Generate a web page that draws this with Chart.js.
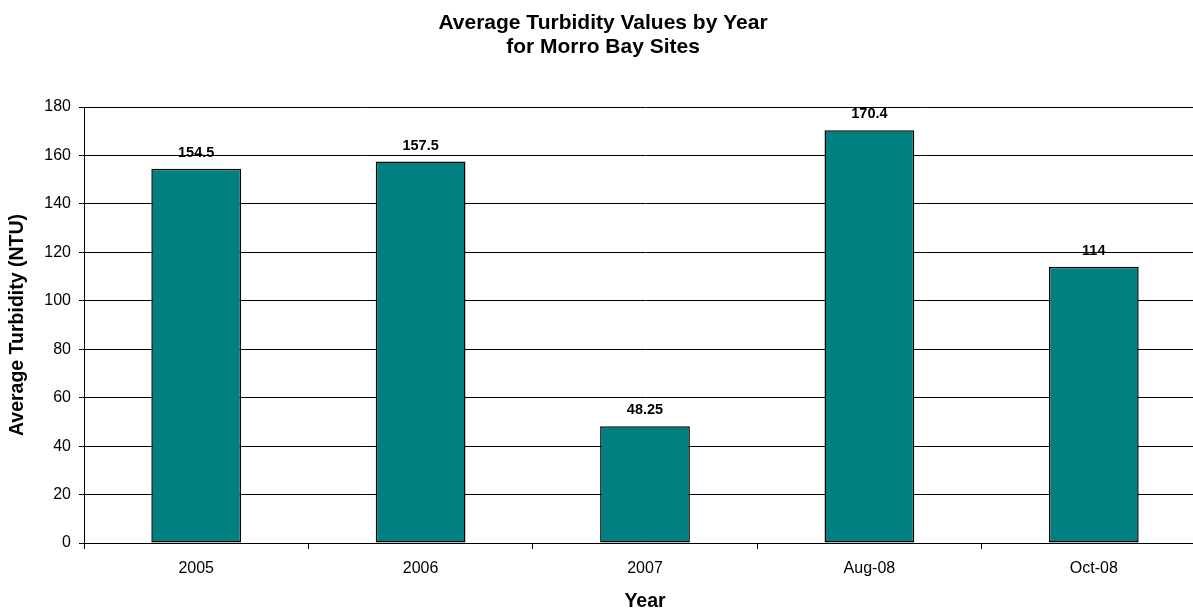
<!DOCTYPE html>
<html>
<head>
<meta charset="utf-8">
<title>Average Turbidity Values by Year</title>
<script src="https://cdn.jsdelivr.net/npm/chart.js@4/dist/chart.umd.min.js"></script>
<style>
  html, body { margin: 0; padding: 0; background: #fff; overflow: hidden; }
  #wrap { width: 1220px; height: 613px; }
</style>
</head>
<body>
<div id="wrap"><canvas id="turbidity"></canvas></div>
<script>
// turbidity averages per sampling period
var years = ['2005', '2006', '2007', 'Aug-08', 'Oct-08'];
var avgTurbidity = [154.5, 157.5, 48.25, 170.4, 114];
var titleLines = ['Average Turbidity Values by Year', 'for Morro Bay Sites'];
var yMin = 0, yMax = 180, yStep = 20;

var FONT = "'Liberation Sans', Arial, sans-serif";

// prints the value over each bar
var valueLabels = {
  id: 'valueLabels',
  afterDatasetsDraw: function (chart) {
    var ctx = chart.ctx;
    var meta = chart.getDatasetMeta(0);
    ctx.save();
    ctx.font = 'bold 14.5px ' + FONT;
    ctx.fillStyle = '#000';
    ctx.textAlign = 'center';
    ctx.textBaseline = 'alphabetic';
    meta.data.forEach(function (bar, i) {
      ctx.fillText(String(avgTurbidity[i]), bar.x, bar.y - 12);
    });
    ctx.restore();
  }
};

var ctx = document.getElementById('turbidity').getContext('2d');
window.turbChart = new Chart(ctx, {
  type: 'bar',
  data: {
    labels: years,
    datasets: [{
      data: avgTurbidity,
      backgroundColor: '#008080',
      borderColor: '#000',
      borderWidth: 1.5,
      borderSkipped: false,
      barPercentage: 0.4,
      categoryPercentage: 1
    }]
  },
  options: {
    responsive: true,
    maintainAspectRatio: false,
    animation: false,
    layout: { padding: { left: 0, right: 14, top: 0, bottom: 0 } },
    plugins: {
      legend: { display: false },
      tooltip: { enabled: false },
      title: {
        display: true,
        text: titleLines,
        color: '#000',
        font: { family: FONT, size: 21, weight: 'bold', lineHeight: 1.143 },
        padding: { top: 11, bottom: 48 }
      }
    },
    scales: {
      x: {
        afterFit: function (scale) { scale.height = 70; },
        grid: {
          drawOnChartArea: false,
          drawTicks: true,
          tickLength: 6,
          color: '#000',
          offset: true
        },
        border: { color: '#000', width: 1 },
        ticks: {
          color: '#000',
          padding: 10,
          font: { family: FONT, size: 16 }
        },
        title: {
          display: true,
          text: 'Year',
          color: '#000',
          font: { family: FONT, size: 19.5, weight: 'bold' },
          padding: { top: 0, bottom: 0 }
        }
      },
      y: {
        min: yMin,
        max: yMax,
        afterFit: function (scale) { scale.width = 84; },
        grid: {
          color: '#000',
          lineWidth: 1,
          tickLength: 5,
          drawTicks: true
        },
        border: { color: '#000', width: 1 },
        ticks: {
          stepSize: yStep,
          color: '#000',
          padding: 8,
          font: { family: FONT, size: 16 }
        },
        title: {
          display: true,
          text: 'Average Turbidity (NTU)',
          color: '#000',
          font: { family: FONT, size: 19.5, weight: 'bold' },
          padding: { top: 6, bottom: 0 }
        }
      }
    }
  },
  plugins: [valueLabels]
});
</script>
</body>
</html>
